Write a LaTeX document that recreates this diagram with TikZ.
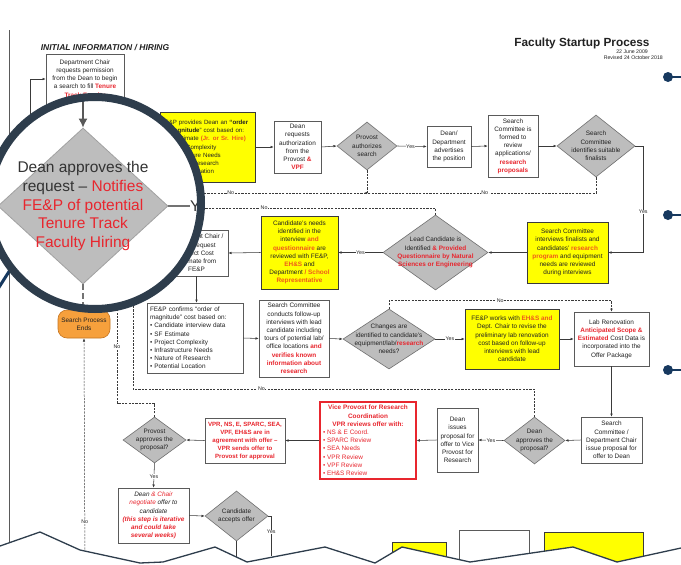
\documentclass[tikz,border=0pt]{standalone}
\usepackage{fontspec}
\setmainfont{Liberation Sans}
\usetikzlibrary{arrows.meta, positioning, shapes.geometric, shapes.misc}
\definecolor{lineDark}{HTML}{3A3A3A}
\definecolor{boxLine}{HTML}{5A5A5A}
\definecolor{noteYellow}{HTML}{FFFF00}
\definecolor{decGray}{HTML}{BDBDBD}
\definecolor{decLine}{HTML}{707070}
\definecolor{accentRed}{HTML}{E8262E}
\definecolor{accentOrange}{HTML}{EE5A1C}
\definecolor{endOrange}{HTML}{F6A03C}
\definecolor{endLine}{HTML}{C47420}
\definecolor{ringSlate}{HTML}{2E3D4C}
\definecolor{markNavy}{HTML}{17395F}
\definecolor{textDark}{HTML}{222222}
\newcommand{\hlr}[1]{\textcolor{accentRed}{\textbf{#1}}}
\newcommand{\hlo}[1]{\textcolor{accentOrange}{\textbf{#1}}}
\newcommand{\boxfont}{\fontsize{6.4}{8.2}\selectfont}
\newcommand{\tagfont}{\fontsize{5.3}{6}\selectfont}
\newcommand{\lensfont}{\fontsize{15.5}{18.6}\selectfont}

\begin{document}
\begin{tikzpicture}[x=1pt, y=-1pt,
    every node/.style={font=\boxfont, text=textDark},
    box/.style={draw=boxLine, fill=white, line width=0.6pt, inner sep=0pt, align=center},
    ybox/.style={box, fill=noteYellow, draw=lineDark},
    decide/.style={diamond, draw=decLine, fill=decGray, line width=0.6pt, inner sep=0pt},
    dtxt/.style={inner sep=0pt, align=center},
    flow/.style={draw=lineDark, line width=0.55pt, -{Latex[length=3.2pt,width=2.6pt]}},
    link/.style={draw=lineDark, line width=0.55pt},
    nolink/.style={draw=lineDark, line width=0.5pt, dash pattern=on 2.2pt off 1.2pt},
    tag/.style={font=\tagfont, fill=white, inner sep=0.6pt}]
  \useasboundingbox (0,0) rectangle (681,565);
  \clip (0,0) rectangle (681,565);
  \fill[white] (0,0) rectangle (681,565);

  % the page
  \draw[boxLine, line width=0.6pt] (9,30) -- (9,565);

  \node[font=\fontsize{8.5}{10}\selectfont\bfseries\itshape] (sect) at (105,48) {INITIAL INFORMATION / HIRING};
  \node[font=\fontsize{11.8}{14}\selectfont\bfseries] (title) at (582,43) {Faculty Startup Process};
  \node[font=\fontsize{5.2}{6}\selectfont, anchor=east, inner sep=0pt] (made) at (648,52) {22 June 2009};
  \node[font=\fontsize{5.2}{6}\selectfont, anchor=east, inner sep=0pt] (revised) at (663,58) {Revised 24 October 2018};

  % top row
  \node[box, minimum width=78pt, minimum height=50pt] (permit) at (85,79) {Department Chair\\requests permission\\from the Dean to begin\\a search to fill \hlr{Tenure}\\\hlr{Track Faculty}};
  \node[ybox, minimum width=95pt, minimum height=70pt, text width=93pt, align=left, font=\fontsize{6.1}{8.2}\selectfont] (magn) at (207.5,147) {FE\&P provides Dean an \textbf{``order}\\\textbf{of magnitude}'' cost based on:\\\textbullet\ SF Estimate \hlo{(Jr. or Sr. Hire)}\\\textbullet\ Project Complexity\\\textbullet\ Infrastructure Needs\\\textbullet\ Nature of Research\\\textbullet\ Potential Location};
  \node[box, minimum width=47pt, minimum height=52pt] (askprov) at (297.5,147) {Dean\\requests\\authorization\\from the\\Provost \hlr{\&}\\\hlr{VPF}};
  \node[decide, minimum width=60pt, minimum height=48pt] (authq) at (367,146) {};
  \node[dtxt] (authq-t) at (authq) {Provost\\authorizes\\search};
  \node[box, minimum width=44pt, minimum height=41pt] (advert) at (449,146.5) {Dean/\\Department\\advertises\\the position};
  \node[box, minimum width=50pt, minimum height=62pt] (formed) at (513,146) {Search\\Committee is\\formed to\\review\\applications/\\\hlr{research}\\\hlr{proposals}};
  \node[decide, minimum width=78pt, minimum height=62pt] (finq) at (596,146) {};
  \node[dtxt] (finq-t) at (finq) {Search\\Committee\\identifies suitable\\finalists};

  % second row
  \node[ybox, minimum width=81pt, minimum height=61pt] (interv) at (567.5,252.5) {Search Committee\\interviews finalists and\\candidates' \hlo{research}\\\hlo{program} and equipment\\needs are reviewed\\during interviews};
  \node[decide, minimum width=105pt, minimum height=75pt] (leadq) at (435.5,252.5) {};
  \node[dtxt] (leadq-t) at (leadq) {Lead Candidate is\\Identified \hlr{\& Provided}\\\hlr{Questionnaire by Natural}\\\hlr{Sciences or Engineering}};
  \node[ybox, minimum width=77pt, minimum height=73pt] (needs) at (299.5,252.5) {Candidate's needs\\identified in the\\interview \hlo{and}\\\hlo{questionnaire} are\\reviewed with FE\&P,\\\hlo{EH\&S} and\\Department \hlo{/ School}\\\hlo{Representative}};
  \node[box, minimum width=63pt, minimum height=46pt] (estreq) at (196.5,253) {Department Chair /\\Dean request\\Project Cost\\Estimate from\\FE\&P};

  % third row
  \node[box, minimum width=96pt, minimum height=70pt, text width=90pt, align=left] (confirm) at (195,338) {FE\&P confirms ``order of\\magnitude'' cost based on:\\\textbullet\ Candidate interview data\\\textbullet\ SF Estimate\\\textbullet\ Project Complexity\\\textbullet\ Infrastructure Needs\\\textbullet\ Nature of Research\\\textbullet\ Potential Location};
  \node[box, minimum width=70pt, minimum height=77pt] (follow) at (294,338.5) {Search Committee\\conducts follow-up\\interviews with lead\\candidate including\\tours of potential lab/\\office locations \hlr{and}\\\hlr{verifies known}\\\hlr{information about}\\\hlr{research}};
  \node[decide, minimum width=92pt, minimum height=60pt] (chgq) at (389,339) {};
  \node[dtxt] (chgq-t) at (chgq) {Changes are\\identified to candidate's\\equipment/lab/\hlr{research}\\needs?};
  \node[ybox, minimum width=94pt, minimum height=60pt] (revise) at (512,339) {FE\&P works with \hlo{EH\&S and}\\Dept. Chair to revise the\\preliminary lab renovation\\cost based on follow-up\\interviews with lead\\candidate};
  \node[box, minimum width=75pt, minimum height=54pt] (labreno) at (611.5,339) {Lab Renovation\\\hlr{Anticipated Scope \&}\\\hlr{Estimated} Cost Data is\\incorporated into the\\Offer Package};

  % fourth row
  \node[box, minimum width=61pt, minimum height=46pt] (propose) at (611.5,440) {Search\\Committee /\\Department Chair\\issue proposal for\\offer to Dean};
  \node[decide, minimum width=61pt, minimum height=47pt] (deanq) at (534.5,440.5) {};
  \node[dtxt] (deanq-t) at (deanq) {Dean\\approves the\\proposal?};
  \node[box, minimum width=41pt, minimum height=64pt] (issue) at (457.5,440) {Dean\\issues\\proposal for\\offer to Vice\\Provost for\\Research};
  \node[box, draw=accentRed, line width=1.2pt, minimum width=96pt, minimum height=77pt, text=accentRed] (vpr) at (368,440.5) {\textbf{Vice Provost for Research}\\\textbf{Coordination}\\\textbf{VPR reviews offer with:}\\\makebox[90pt][l]{\textbullet\ NS \& E Coord.}\\\makebox[90pt][l]{\textbullet\ SPARC Review}\\\makebox[90pt][l]{\textbullet\ SEA Needs}\\\makebox[90pt][l]{\textbullet\ VPR Review}\\\makebox[90pt][l]{\textbullet\ VPF Review}\\\makebox[90pt][l]{\textbullet\ EH\&S Review}};
  \node[box, minimum width=80pt, minimum height=45pt, text=accentRed, font=\fontsize{6.1}{8}\selectfont\bfseries] (agree) at (245,440.5) {VPR, NS, E, SPARC, SEA,\\VPF, EH\&S are in\\agreement with offer --\\VPR sends offer to\\Provost for approval};
  \node[decide, minimum width=63pt, minimum height=46pt] (provq) at (154.5,440) {};
  \node[dtxt] (provq-t) at (provq) {Provost\\approves the\\proposal?};

  % fifth row
  \node[box, minimum width=71pt, minimum height=55pt, font=\boxfont\itshape] (nego) at (153.5,515.5) {Dean \textcolor{accentRed}{\& Chair}\\\textcolor{accentRed}{negotiate} offer to\\candidate\\\hlr{(this step is iterative}\\\hlr{and could take}\\\hlr{several weeks)}};
  \node[decide, minimum width=63pt, minimum height=50pt] (acceptq) at (236.5,516) {};
  \node[dtxt] (acceptq-t) at (acceptq) {Candidate\\accepts offer};
  \node[ybox, minimum width=54pt, minimum height=30pt, anchor=north west] (nextA) at (392,542) {};
  \node[box, minimum width=70pt, minimum height=40pt, anchor=north west] (nextB) at (459,530) {};
  \node[ybox, minimum width=99pt, minimum height=40pt, anchor=north west] (nextC) at (544,532) {};

  \node[draw=endLine, fill=endOrange, line width=0.6pt, rounded corners=9pt, minimum width=52pt, minimum height=28pt, inner sep=0pt, align=center] (stop) at (84,324) {Search Process\\Ends};

  % connectors
  \coordinate (loopS) at (30,170);
  \draw[flow] (loopS) |- (permit.west);
  \draw[flow] (magn.east) -- (askprov.west);
  \draw[flow] (askprov.east) -- (authq.west);
  \draw[flow] (authq.east) -- (advert.west) node[tag, pos=0.45] {Yes};
  \draw[flow] (advert.east) -- (formed.west);
  \draw[flow] (formed.east) -- (finq.west);
  \draw[flow] (finq.east) -- ++(8,0) |- (interv.east) node[tag, pos=0.31] {Yes};
  \draw[flow] (interv.west) -- (leadq.east);
  \draw[flow] (leadq.west) -- (needs.east) node[tag, pos=0.5] {Yes};
  \draw[flow] (needs.west) -- (estreq.east);
  \draw[flow] (estreq.south) -- (estreq.south |- confirm.north);
  \draw[flow] (confirm.east) -- (follow.west);
  \draw[flow] (follow.east) -- (chgq.west);
  \draw[flow] (chgq.east) -- (revise.west) node[tag, pos=0.5] {Yes};
  \draw[flow] (revise.east) -- (labreno.west);
  \draw[flow] (labreno.south) -- (propose.north);
  \draw[flow] (propose.west) -- (deanq.east);
  \draw[flow] (deanq.west) -- (issue.east) node[tag, pos=0.5] {Yes};
  \draw[flow] (issue.west) -- (vpr.east);
  \draw[flow] (vpr.west) -- (agree.east);
  \draw[flow] (agree.west) -- (provq.east);
  \draw[flow] (provq.south) -- (nego.north) node[tag, pos=0.55] {Yes};
  \draw[flow] (nego.east) -- (acceptq.west);
  \draw[link] (acceptq.east) -- ++(3,0) -- ++(0,40) node[tag, pos=0.4] {Yes};
  \draw[link] (acceptq.south) -- ++(0,30);

  % the "No" returns
  \coordinate (jn) at (364,193);
  \coordinate (nA) at (140,193);
  \coordinate (nB) at (140,208);
  \coordinate (nC) at (133,389);
  \coordinate (nCup) at (133,290);
  \coordinate (nD) at (117,403);
  \coordinate (nDup) at (117,290);
  \coordinate (nE) at (85,570);
  \draw[nolink, -{Latex[length=3.2pt,width=2.6pt]}] (finq.south) |- (jn) node[tag, pos=0.74] {No};
  \draw[nolink] (authq.south) |- (nA) node[tag, pos=0.8] {No};
  \draw[nolink] (leadq.north) |- (nB) node[tag, pos=0.79] {No};
  \draw[nolink, -{Latex[length=3.2pt,width=2.6pt]}] (chgq.north) -- ++(0,-8) -| (labreno.north) node[tag, pos=0.25] {No};
  \draw[nolink] (deanq.north) |- (nC) node[tag, pos=0.84] {No} -- (nCup);
  \draw[nolink] (provq.north) |- (nD) -- (nDup) node[tag, pos=0.5] {No};
  \draw[nolink, -{Latex[length=3.2pt,width=2.6pt]}] (nE) -- (stop.south) node[tag, pos=0.21] {No};

  % torn edge: blank below it
  \fill[white] (0,570) -- (0,546) -- (40,532) -- (80,550) -- (140,563) -- (163,562)
    -- (215,547) -- (247,562) -- (325,547) -- (375,563) -- (402,547) -- (470,562)
    -- (573,547) -- (617,562) -- (681,548) -- (681,570) -- cycle;
  \draw[ringSlate, line width=1.3pt] (0,546) -- (40,532) -- (80,550) -- (140,563) -- (163,562)
    -- (215,547) -- (247,562) -- (325,547) -- (375,563) -- (402,547) -- (470,562)
    -- (573,547) -- (617,562) -- (681,548);

  % magnifier
  \draw[markNavy, line width=3pt] (10,270) -- (-4,292);
  \begin{scope}
    \fill[white] (95,203) circle (106pt);
    \clip (95,203) circle (103pt);
    \node[decide, draw=decGray!85!black, line width=0.8pt, minimum width=170pt, minimum height=156pt] (lensdec) at (83,206) {};
    \node[dtxt, font=\lensfont, text=black!80] (lensdec-t) at (lensdec) {Dean approves the\\request -- \textcolor{accentRed}{Notifies}\\\textcolor{accentRed}{FE\&P of potential}\\\textcolor{accentRed}{Tenure Track}\\\textcolor{accentRed}{Faculty Hiring}};
    \node[font=\lensfont, text=black!80, anchor=west, inner sep=0pt] (lensyes) at (190,206) {Yes};
    \coordinate (lensin) at (83,70);
    \draw[draw=black!65, line width=1.3pt, -{Latex[length=9pt,width=9pt]}] (lensin) -- (lensdec.north);
    \draw[draw=black!55, line width=1.3pt] (lensdec.east) -- (lensyes.west);
    \draw[draw=black!55, line width=1.2pt, dash pattern=on 6pt off 3pt] (lensdec.south) -- ++(0,45);
  \end{scope}
  \draw[ringSlate, line width=8pt] (95,203) circle (106pt);

  % markers on the right
  \foreach \y in {77,215,370}{
    \draw[markNavy, line width=2pt] (668,\y) -- (690,\y);
    \fill[markNavy] (668,\y) circle (5pt);
  }
\end{tikzpicture}
\end{document}
